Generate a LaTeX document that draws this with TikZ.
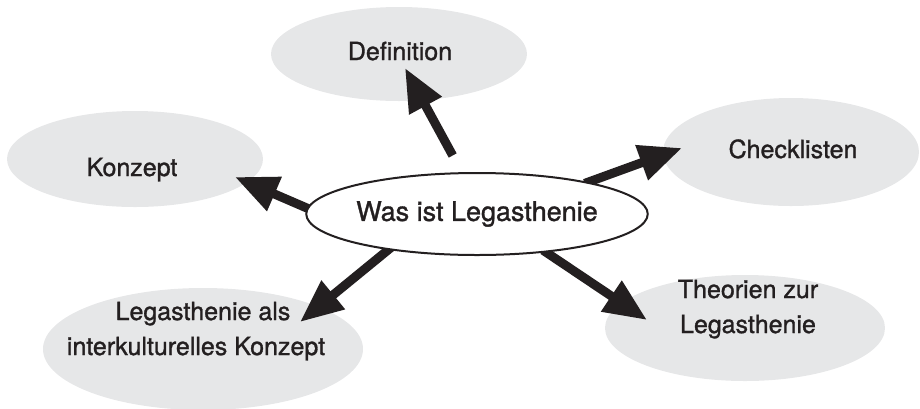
\documentclass[tikz,border=0pt]{standalone}
\usepackage{fontspec}
\setmainfont{TeX Gyre Heros}[FakeBold=1.2]
\usetikzlibrary{shapes.geometric,arrows.meta}
\definecolor{bubblegray}{RGB}{230,231,232}
\definecolor{inkblack}{RGB}{35,31,32}
\pgfdeclarelayer{bubbles}
\pgfdeclarelayer{arrowlayer}
\pgfsetlayers{bubbles,arrowlayer,main}
\tikzset{
  bubble/.style={ellipse, fill=bubblegray, draw=none, inner sep=0pt},
  hub/.style={ellipse, fill=white, draw=inkblack, line width=2pt, inner sep=0pt,
    minimum width=320pt, minimum height=82pt, text=inkblack,
    font=\fontsize{27}{32}\selectfont},
  caption/.style={align=center, text=inkblack, inner sep=0pt,
    font=\fontsize{25}{35}\selectfont, text height=18pt, text depth=0pt},
  bigarrow/.style={draw=inkblack, line width=9pt,
    -{Triangle[length=43pt,width=35pt]}, shorten <=-4pt},
}
\begin{document}
\begin{tikzpicture}[x=1pt,y=-1pt]
\useasboundingbox (0,0) rectangle (920,408);
% outer topic bubbles
\begin{pgfonlayer}{bubbles}
  \node[bubble, minimum width=256pt, minimum height=94pt] (def) at (399,54) {};
  \node[bubble, minimum width=256pt, minimum height=96pt] (kon) at (135,159) {};
  \node[bubble, minimum width=256pt, minimum height=108pt] (che) at (791,152) {};
  \node[bubble, minimum width=320pt, minimum height=122pt] (leg) at (203,349) {};
  \node[bubble, minimum width=280pt, minimum height=106pt] (the) at (745,328) {};
\end{pgfonlayer}
% captions of the outer bubbles
\node[caption] (defText) at (400,51) {Definition};
\node[caption] (konText) at (132,167) {Konzept};
\node[caption] (cheText) at (793,149) {Checklisten};
\node[caption] (legText) at (196,346) {\hspace*{14pt}Legasthenie als\\interkulturelles Konzept};
\node[caption] (theText) at (748,324) {Theorien zur\\Legasthenie};
% central question
\node[hub] (main) at (477,214) {Was ist Legasthenie};
% arrow tips inside the outer bubbles
\coordinate (defTip) at (405,68);
\coordinate (konTip) at (235,177);
\coordinate (cheTip) at (682,148);
\coordinate (legTip) at (300,322);
\coordinate (theTip) at (647,320);
\begin{pgfonlayer}{arrowlayer}
  \draw[bigarrow, shorten <=19pt] (main.110) -- (defTip);
  \draw[bigarrow] (main.178) -- (konTip);
  \draw[bigarrow] (main.16) -- (cheTip);
  \draw[bigarrow] (main.202.5) -- (legTip);
  \draw[bigarrow] (main.331) -- (theTip);
\end{pgfonlayer}
\end{tikzpicture}
\end{document}
